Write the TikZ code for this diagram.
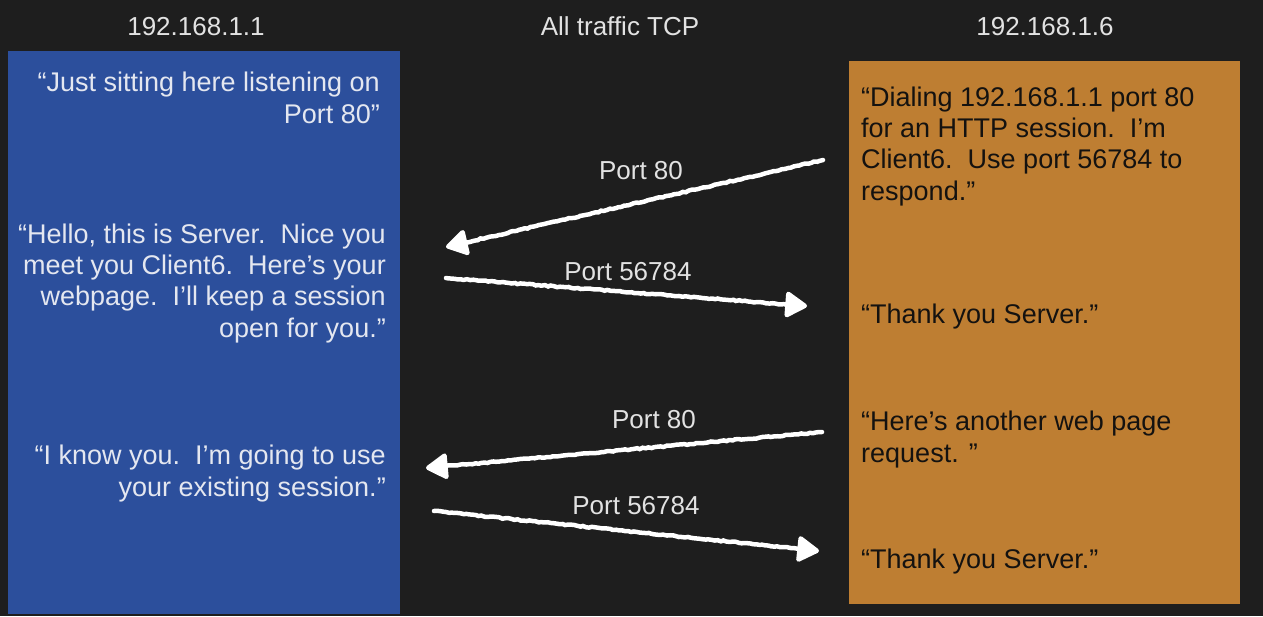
\documentclass[tikz,border=0pt]{standalone}
\usepackage{fontspec}
\setmainfont{Liberation Sans}
\usetikzlibrary{arrows.meta,decorations.pathmorphing}
\definecolor{bgc}{HTML}{1E1E1E}
\definecolor{bluebox}{HTML}{2C4F9C}
\definecolor{orangebox}{HTML}{BE7E32}
\definecolor{lighttext}{HTML}{E2E2E2}
\definecolor{bluetext}{HTML}{E4E7F0}
\definecolor{darktext}{HTML}{141210}
\tikzset{
  title/.style={anchor=base, inner sep=0pt, text=lighttext, font=\fontsize{26}{30}\selectfont},
  lbl/.style={anchor=base, inner sep=0pt, text=lighttext, font=\fontsize{26}{30}\selectfont},
  lefttext/.style={anchor=base east, inner sep=0pt, align=right, text=bluetext, font=\fontsize{27}{31.3}\selectfont},
  righttext/.style={anchor=base west, inner sep=0pt, align=left, text=darktext, font=\fontsize{27}{31.3}\selectfont},
  chalk/.style={draw=white, line width=4.5pt, line cap=round,
    -{Triangle[length=24pt,width=28pt,round]},
    decorate, decoration={random steps, segment length=3pt, amplitude=0.6pt, post length=20pt}},
}
\begin{document}
\begin{tikzpicture}[x=1pt,y=-1pt]
\fill[bgc] (0,0) rectangle (1263,616);
\useasboundingbox (0,0) rectangle (1263,616);
% boxes
\node[fill=bluebox, inner sep=0pt, minimum width=392pt, minimum height=563pt, anchor=north west] (server) at (8,51) {};
\node[fill=orangebox, inner sep=0pt, minimum width=391pt, minimum height=543pt, anchor=north west] (client) at (849,61) {};
% titles
\node[title] (t1) at (196,35) {192.168.1.1};
\node[title] (t2) at (620,35) {All traffic TCP};
\node[title] (t3) at (1045,35) {192.168.1.6};
% left texts (anchored at the baseline of the last line)
\node[lefttext] (s1) at (380,123) {“Just sitting here listening on\\Port 80”};
\node[lefttext] (s2) at (386,337) {“Hello, this is Server.\ \ Nice you\\meet you Client6.\ \ Here’s your\\webpage.\ \ I’ll keep a session\\open for you.”};
\node[lefttext] (s3) at (386,496) {“I know you.\ \ I’m going to use\\your existing session.”};
% right texts
\node[righttext] (c1) at (861,200) {“Dialing 192.168.1.1 port 80\\for an HTTP session.\ \ I’m\\Client6.\ \ Use port 56784 to\\respond.”};
\node[righttext] (c2) at (861,323) {“Thank you Server.”};
\node[righttext] (c3) at (861,462) {“Here’s another web page\\request. ”};
\node[righttext] (c4) at (861,568) {“Thank you Server.”};
% arrow end points
\coordinate (a1s) at (823,160);
\coordinate (a1e) at (446,247);
\coordinate (a2s) at (446,278);
\coordinate (a2e) at (807,306);
\coordinate (a3s) at (822,432);
\coordinate (a3e) at (426,468);
\coordinate (a4s) at (434,511);
\coordinate (a4e) at (819,551);
\draw[chalk] (a1s) -- (a1e);
\draw[chalk] (a2s) -- (a2e);
\draw[chalk] (a3s) -- (a3e);
\draw[chalk] (a4s) -- (a4e);
% labels
\node[lbl] (l1) at (641,179) {Port 80};
\node[lbl] (l2) at (628,280) {Port 56784};
\node[lbl] (l3) at (654,428) {Port 80};
\node[lbl] (l4) at (636,514) {Port 56784};
\end{tikzpicture}
\end{document}
